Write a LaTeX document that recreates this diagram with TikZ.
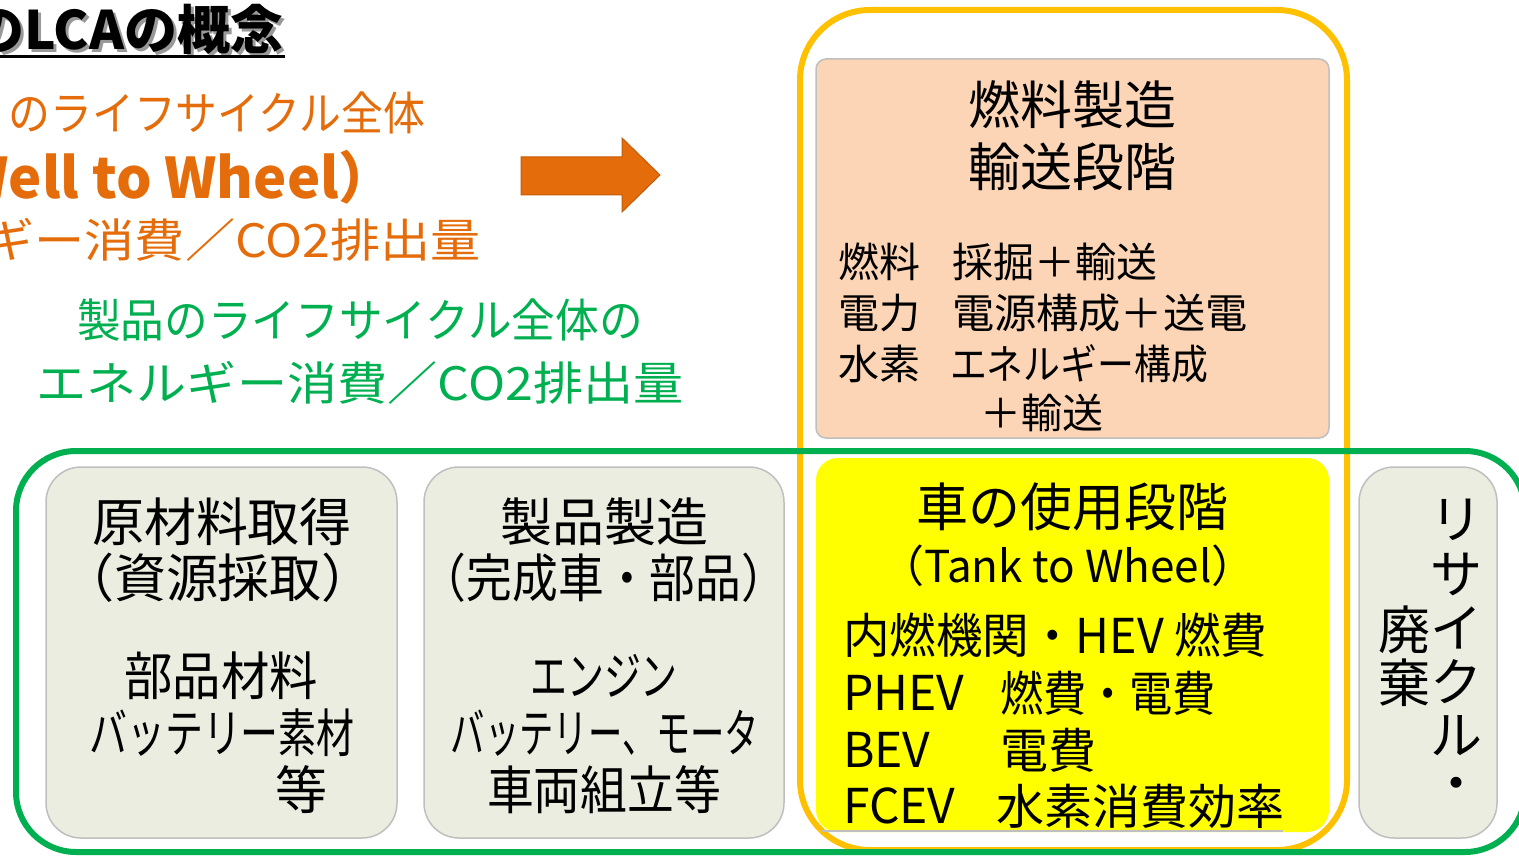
\documentclass[tikz,border=0pt]{standalone}
\usepackage{fontspec}
\usepackage{graphicx}
\setmainfont{Noto Sans CJK JP}
\definecolor{orng}{HTML}{E46C0A}
\definecolor{grn}{HTML}{00B050}
\definecolor{yel}{HTML}{FFC000}
\definecolor{peach}{HTML}{FBD5B5}
\definecolor{gbox}{HTML}{EAEDDF}
\definecolor{bord}{HTML}{BFBFBF}
\definecolor{ybox}{HTML}{FFFF00}
\newcommand{\fs}[1]{\fontsize{#1}{#1}\selectfont}
\newcommand{\sx}[2]{\scalebox{#1}[1]{#2}}
\tikzset{
  txt/.style={inner sep=0pt, outer sep=0pt},
  stagebox/.style={fill=gbox, draw=bord, line width=1.5pt, rounded corners=35pt},
}
\begin{document}
\begin{tikzpicture}[x=1pt,y=1pt]
\useasboundingbox (0,0) rectangle (1519,-856);
\clip (0,0) rectangle (1519,-856);
% title
\node[txt, anchor=east, text=black!40, font=\fs{53}\bfseries] at (286,-32) {のLCAの概念};
\node[txt, anchor=east, font=\fs{53}\bfseries] (title) at (283,-29) {のLCAの概念};
\draw[line width=3pt] (0,-57) -- (285,-57);
% orange text
\node[txt, anchor=east, text=orng, font=\fs{46}] (o1) at (425,-113) {\sx{0.91}{のライフサイクル全体}};
\node[txt, anchor=east, text=orng, font=\fs{56}\bfseries] (o2) at (395,-177) {（Well to Wheel）};
\node[txt, anchor=east, text=orng, font=\fs{46}] (o3) at (481,-240) {\sx{1.09}{エネルギー消費／CO2排出量}};
% arrow
\path[fill=orng, draw=orng!85!black, line width=1pt] (521,-157) -- (622,-157) -- (622,-138) -- (660,-175) -- (622,-212) -- (622,-195) -- (521,-195) -- cycle;
% green text
\node[txt, text=grn, font=\fs{46}] (g1) at (360,-320) {\sx{0.95}{製品のライフサイクル全体の}};
\node[txt, text=grn, font=\fs{46}] (g2) at (360,-383) {\sx{1.09}{エネルギー消費／CO2排出量}};
% yellow outline
\draw[yel, line width=6pt, rounded corners=70pt] (800,-10) rectangle (1347,-850);
% peach box
\draw[fill=peach, draw=bord, line width=1.5pt, rounded corners=10pt] (816,-59) rectangle (1329,-438);
\node[txt, font=\fs{52}] (p1) at (1072,-105) {燃料製造};
\node[txt, font=\fs{52}] (p2) at (1072,-167) {輸送段階};
\node[txt, anchor=west, font=\fs{41}] (p3a) at (838,-262) {燃料};
\node[txt, anchor=west, font=\fs{41}] (p3b) at (952,-262) {採掘＋輸送};
\node[txt, anchor=west, font=\fs{41}] (p4a) at (838,-313) {電力};
\node[txt, anchor=west, font=\fs{41}] (p4b) at (952,-313) {\sx{1.03}{電源構成＋送電}};
\node[txt, anchor=west, font=\fs{41}] (p5a) at (838,-364) {水素};
\node[txt, anchor=west, font=\fs{41}] (p5b) at (950,-364) {\sx{0.9}{エネルギー構成}};
\node[txt, anchor=west, font=\fs{41}] (p6) at (980,-413) {＋輸送};
% yellow box
\fill[ybox, rounded corners=22pt] (816,-458) rectangle (1329,-832);
\draw[bord, line width=1.5pt] (822,-831) -- (1283,-831);
\node[txt, font=\fs{52}] (y1) at (1072,-507) {車の使用段階};
\node[txt, font=\fs{44}] (y2) at (1068,-566) {（Tank to Wheel）};
\node[txt, anchor=west, font=\fs{48}] (y3) at (843,-635) {\sx{0.97}{内燃機関・HEV 燃費}};
\node[txt, anchor=west, font=\fs{48}] (y4a) at (843,-693) {PHEV};
\node[txt, anchor=west, font=\fs{48}] (y4b) at (1000,-693) {\sx{0.9}{燃費・電費}};
\node[txt, anchor=west, font=\fs{48}] (y5a) at (843,-750) {BEV};
\node[txt, anchor=west, font=\fs{48}] (y5b) at (1000,-750) {電費};
\node[txt, anchor=west, font=\fs{48}] (y6a) at (843,-806) {FCEV};
\node[txt, anchor=west, font=\fs{48}] (y6b) at (996,-806) {水素消費効率};
% green outline
\draw[grn, line width=6pt, rounded corners=60pt] (16,-451) rectangle (1525,-852);
% stage boxes
\draw[stagebox] (46,-467) rectangle (397,-838);
\draw[stagebox] (424,-467) rectangle (784,-838);
\draw[stagebox] (1359,-467) rectangle (1497,-838);
% box A
\node[txt, font=\fs{52}] (a1) at (222,-522) {原材料取得};
\node[txt, font=\fs{52}] (a2) at (218,-578) {（資源採取）};
\node[txt, font=\fs{52}] (a3) at (221,-676) {\sx{0.93}{部品材料}};
\node[txt, font=\fs{52}] (a4) at (222,-733) {\sx{0.73}{バッテリー素材}};
\node[txt, font=\fs{52}] (a5) at (301,-790) {等};
% box B
\node[txt, font=\fs{52}] (b1) at (604,-522) {製品製造};
\node[txt, font=\fs{52}] (b2) at (604,-578) {\sx{0.88}{（完成車・部品）}};
\node[txt, font=\fs{52}] (b3) at (604,-676) {\sx{0.71}{エンジン}};
\node[txt, font=\fs{52}] (b4) at (605,-733) {\sx{0.66}{バッテリー、モータ}};
\node[txt, font=\fs{52}] (b5) at (604,-790) {\sx{0.9}{車両組立等}};
% recycle box (vertical text)
\node[txt, font=\fs{52}] (r1) at (1456,-520) {リ};
\node[txt, font=\fs{52}] (r2) at (1456,-574) {サ};
\node[txt, font=\fs{52}] (r3) at (1456,-628) {イ};
\node[txt, font=\fs{52}] (r4) at (1456,-682) {ク};
\node[txt, font=\fs{52}] (r5) at (1456,-736) {ル};
\node[txt, font=\fs{52}] (r6) at (1456,-790) {・};
\node[txt, font=\fs{52}] (d1) at (1404,-630) {廃};
\node[txt, font=\fs{52}] (d2) at (1404,-683) {棄};
\end{tikzpicture}
\end{document}
